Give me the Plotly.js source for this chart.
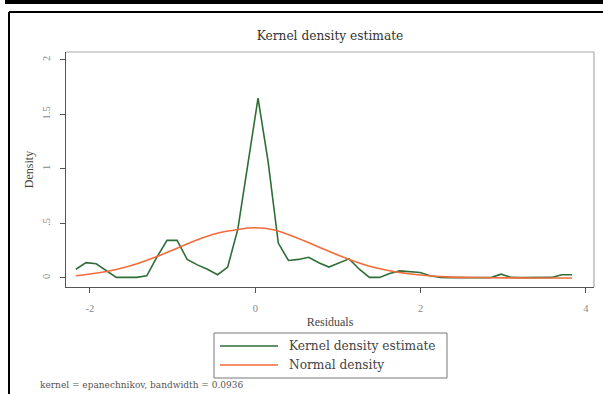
<!DOCTYPE html>
<html>
<head>
<meta charset="utf-8">
<script src="https://cdn.plot.ly/plotly-3.0.1.min.js"></script>
<style>html,body{margin:0;padding:0;background:#fff;}#chart{width:603px;height:394px;}</style>
</head>
<body>
<div id="chart"></div>
<script>
// Kernel density estimate
const kdeX = [-2.17, -2.048, -1.925, -1.803, -1.681, -1.558, -1.436, -1.313, -1.191, -1.068,
              -0.946, -0.824, -0.701, -0.579, -0.456, -0.334, -0.211, -0.089, 0.033, 0.156,
              0.278, 0.401, 0.523, 0.646, 0.768, 0.890, 1.013, 1.135, 1.258, 1.380,
              1.503, 1.625, 1.748, 1.870, 1.993, 2.115, 2.238, 2.360, 2.483, 2.605,
              2.727, 2.850, 2.972, 3.095, 3.217, 3.340, 3.462, 3.585, 3.707, 3.830];
const kdeY = [0.08, 0.14, 0.13, 0.065, 0.005, 0.005, 0.005, 0.02, 0.19, 0.345,
              0.345, 0.17, 0.12, 0.08, 0.03, 0.10, 0.45, 1.05, 1.65, 1.06,
              0.32, 0.16, 0.17, 0.19, 0.14, 0.10, 0.14, 0.175, 0.08, 0.005,
              0.005, 0.04, 0.065, 0.06, 0.05, 0.02, 0.005, 0.003, 0.003, 0.003,
              0.003, 0.003, 0.035, 0.005, 0.003, 0.003, 0.005, 0.005, 0.03, 0.03];
// Normal density
const normX = [-2.17, -1.91, -1.67, -1.43, -1.18, -0.94, -0.70, -0.46, -0.21, 0.0,
               0.23, 0.53, 0.84, 1.12, 1.42, 1.71, 2.03, 2.32, 2.6, 3.0, 3.4, 3.83];
const normY = [0.02, 0.045, 0.08, 0.13, 0.20, 0.275, 0.35, 0.41, 0.445, 0.46,
               0.44, 0.36, 0.26, 0.175, 0.10, 0.055, 0.025, 0.01, 0.004, 0.001, 0.0, 0.0];
const seriesNames = ['Kernel density estimate', 'Normal density'];
const seriesColors = ['#2f6e36', '#f26b3a'];
const xTicks = [-2, 0, 2, 4];
const xTickText = ['-2', '0', '2', '4'];
const yTicks = [0, 0.5, 1, 1.5, 2];
const yTickText = ['0', '.5', '1', '1.5', '2'];
const noteText = 'kernel = epanechnikov, bandwidth = 0.0936';

const serif = "'Liberation Serif', 'DejaVu Serif', serif";
const dvSerif = "'DejaVu Serif', serif";

const traces = [
  {x: kdeX, y: kdeY, type: 'scatter', mode: 'lines', name: seriesNames[0],
   line: {color: seriesColors[0], width: 1.6}},
  {x: normX, y: normY, type: 'scatter', mode: 'lines', name: seriesNames[1],
   line: {color: seriesColors[1], width: 1.6, shape: 'spline'}}
];

// pixel -> paper helpers (plot area 66..594 x 52..287)
const px = v => (v - 66) / 528;
const py = v => (287 - v) / 235;

const layout = {
  width: 603, height: 394,
  margin: {l: 66, r: 9, t: 52, b: 107},
  paper_bgcolor: '#fff', plot_bgcolor: '#fff',
  showlegend: false,
  font: {family: serif, color: '#444'},
  title: {text: 'Kernel density estimate', font: {family: dvSerif, size: 12.2, color: '#333'},
          x: 0.5, xref: 'paper', xanchor: 'center', y: 1 - 36/394, yanchor: 'middle'},
  xaxis: {range: [-2.29, 4.097], tickvals: xTicks, ticktext: xTickText,
          showgrid: false, zeroline: false, showline: true, linecolor: '#555', linewidth: 1.2,
          ticks: 'outside', ticklen: 5, tickcolor: '#555', tickwidth: 1,
          ticklabelstandoff: 6,
          tickfont: {family: serif, size: 10.5, color: '#888'},
          title: {text: 'Residuals', font: {family: serif, size: 12, color: '#444'}, standoff: 4}},
  yaxis: {range: [-0.083, 2.073], tickvals: yTicks, ticktext: yTickText, tickangle: -90,
          showgrid: false, zeroline: false, showline: true, linecolor: '#555', linewidth: 1.2,
          ticks: 'outside', ticklen: 5, tickcolor: '#555', tickwidth: 1,
          ticklabelstandoff: 6,
          tickfont: {family: serif, size: 10.5, color: '#888'},
          title: {text: 'Density', font: {family: serif, size: 12, color: '#444'}, standoff: 4}},
  shapes: [
    // top thick frame line
    {type: 'line', xref: 'paper', yref: 'paper', x0: px(5), x1: px(603),
     y0: py(2), y1: py(2), line: {color: '#000', width: 4}},
    // outer box
    {type: 'line', xref: 'paper', yref: 'paper', x0: px(9), x1: px(610),
     y0: py(12), y1: py(12), line: {color: '#000', width: 2}},
    {type: 'line', xref: 'paper', yref: 'paper', x0: px(9), x1: px(9),
     y0: py(12), y1: py(400), line: {color: '#000', width: 2}},
    // plot region top/right borders
    {type: 'line', xref: 'paper', yref: 'paper', x0: 0, x1: 1, y0: 1, y1: 1,
     line: {color: '#aaa', width: 1.2}},
    {type: 'line', xref: 'paper', yref: 'paper', x0: 1, x1: 1, y0: 0, y1: 1,
     line: {color: '#aaa', width: 1.2}},
    // legend box
    {type: 'rect', xref: 'paper', yref: 'paper', x0: px(214), x1: px(447), y0: py(333), y1: py(378),
     line: {color: '#777', width: 1}, fillcolor: 'rgba(0,0,0,0)'},
    // legend samples
    {type: 'line', xref: 'paper', yref: 'paper', x0: px(220), x1: px(278), y0: py(346), y1: py(346),
     line: {color: seriesColors[0], width: 1.6}},
    {type: 'line', xref: 'paper', yref: 'paper', x0: px(220), x1: px(278), y0: py(365), y1: py(365),
     line: {color: seriesColors[1], width: 1.6}}
  ],
  annotations: [
    {text: seriesNames[0], xref: 'paper', yref: 'paper', x: px(287), y: py(346),
     xanchor: 'left', yanchor: 'middle', showarrow: false,
     font: {family: dvSerif, size: 12.2, color: '#444'}},
    {text: seriesNames[1], xref: 'paper', yref: 'paper', x: px(287), y: py(365),
     xanchor: 'left', yanchor: 'middle', showarrow: false,
     font: {family: dvSerif, size: 12.2, color: '#444'}},
    {text: noteText, xref: 'paper', yref: 'paper',
     x: px(38), y: py(385), xanchor: 'left', yanchor: 'middle', showarrow: false,
     font: {family: dvSerif, size: 9, color: '#555'}}
  ]
};

Plotly.newPlot('chart', traces, layout, {displayModeBar: false, staticPlot: true});
</script>
</body>
</html>
